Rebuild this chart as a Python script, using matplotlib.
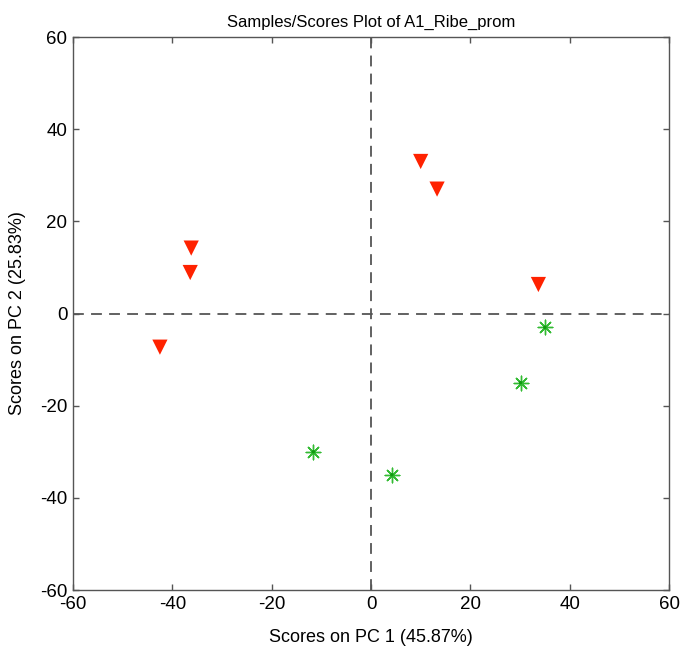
import matplotlib
matplotlib.use('Agg')
import matplotlib.pyplot as plt

plt.rcParams['font.family'] = ['Liberation Sans', 'DejaVu Sans']
plt.rcParams['axes.unicode_minus'] = False

# class 1 (red triangles)
red_x = [10.0, 13.3, 33.7, -36.2, -36.4, -42.5]
red_y = [33.0, 27.0, 6.3, 14.2, 8.9, -7.3]

# class 2 (green asterisks)
green_x = [35.0, 30.1, -11.6, 4.2]
green_y = [-3.0, -15.0, -30.0, -35.0]

ticks = [-60, -40, -20, 0, 20, 40, 60]


def main():
    fig = plt.figure(figsize=(6.81, 6.49), dpi=100)
    ax = fig.add_axes([0.1072, 0.0909, 0.8752, 0.852])

    ax.axhline(0, color='#555555', linestyle=(0, (6, 4)), linewidth=1.3, zorder=1)
    ax.axvline(0, color='#555555', linestyle=(0, (6, 4)), linewidth=1.3, zorder=1)

    ax.scatter(red_x, red_y, marker='v', s=120, color='#ff2200',
               edgecolors='none', zorder=3)
    ax.scatter(green_x, green_y, marker=(8, 2, 0), s=110, color='#33bb33',
               linewidths=1.0, zorder=3)
    ax.scatter(green_x, green_y, marker='o', s=6, color='#119911',
               edgecolors='none', zorder=4)

    ax.set_xlim(-60, 60)
    ax.set_ylim(-60, 60)
    ax.set_xticks(ticks)
    ax.set_yticks(ticks)
    ax.tick_params(direction='in', top=True, right=True, length=4,
                   width=1.0, color='#555555', labelcolor='black',
                   labelsize=13.5, pad=4)
    for spine in ax.spines.values():
        spine.set_color('#555555')
        spine.set_linewidth(1.0)

    ax.set_title('Samples/Scores Plot of A1_Ribe_prom', fontsize=12, pad=7)
    ax.set_xlabel('Scores on PC 1 (45.87%)', fontsize=13, labelpad=12)
    ax.set_ylabel('Scores on PC 2 (25.83%)', fontsize=13, labelpad=10)

    fig.savefig('out.png', dpi=100)


if __name__ == '__main__':
    main()
